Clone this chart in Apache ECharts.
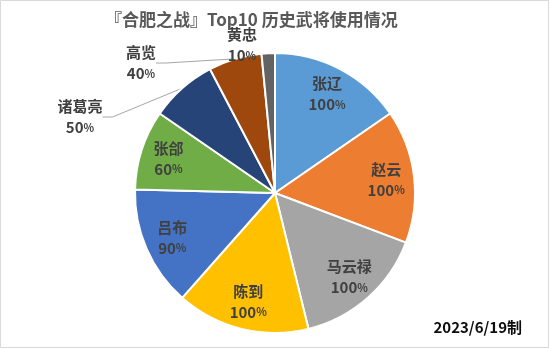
<!DOCTYPE html>
<html>
<head>
<meta charset="utf-8">
<script src="https://cdn.jsdelivr.net/npm/echarts@6/dist/echarts.min.js"></script>
<style>
  html, body { margin: 0; padding: 0; background: #fff; }
  #chart { width: 550px; height: 349px; }
</style>
</head>
<body>
<div id="chart"></div>
<script>
// Generals and their usage rate (%)
const generals = ['张辽', '赵云', '马云禄', '陈到', '吕布', '张郃', '诸葛亮', '高览', '黄忠'];
const usage = [100, 100, 100, 100, 90, 60, 50, 40, 10];
const colors = ['#5B9BD5', '#ED7D31', '#A5A5A5', '#FFC000', '#4472C4', '#70AD47', '#264478', '#9E480E', '#636363'];
const titleText = '『合肥之战』Top10 历史武将使用情况';
const dateText = '2023/6/19制';

// small slices get their label outside the pie, placed by hand
const outsideLabels = { '诸葛亮': [80, 117], '高览': [141, 63], '黄忠': [242, 45] };

const chart = echarts.init(document.getElementById('chart'));
const fontCJK = '"Noto Sans CJK SC", "Microsoft YaHei", sans-serif';
const rich = {
  n: { fontSize: 15, fontWeight: 'bold', color: '#404040', fontFamily: fontCJK, lineHeight: 21 },
  v: { fontSize: 15, fontWeight: 'bold', color: '#404040', fontFamily: fontCJK, lineHeight: 21 },
  p: { fontSize: 11, fontWeight: 'bold', color: '#404040', fontFamily: fontCJK, lineHeight: 21 }
};
const fmt = p => '{n|' + p.name + '}\n{v|' + p.value + '}{p|%}';

const pieData = generals.map((g, i) => ({
  name: g,
  value: usage[i],
  itemStyle: { color: colors[i] },
  label: { show: g in outsideLabels },
  labelLine: { show: g in outsideLabels && g !== '黄忠' }
}));

const ringData = generals.map((g, i) => ({
  name: g,
  value: usage[i],
  label: { show: !(g in outsideLabels) }
}));

chart.setOption({
  backgroundColor: '#fff',
  animation: false,
  title: {
    text: titleText,
    left: 100,
    top: 6,
    textStyle: { fontSize: 17, fontWeight: 'bold', color: '#595959', fontFamily: fontCJK }
  },
  graphic: [
    {
      type: 'rect',
      shape: { x: 0.5, y: 0.5, width: 548, height: 347 },
      style: { fill: 'none', stroke: '#d9d9d9', lineWidth: 1 },
      silent: true
    },
    {
      type: 'text',
      right: 28,
      bottom: 14,
      style: { text: dateText, fontSize: 15, fontWeight: 'bold', fill: '#0d0d0d', fontFamily: fontCJK }
    }
  ],
  series: [
    {
      type: 'pie',
      center: [275, 193],
      radius: [0, 140],
      startAngle: 90,
      clockwise: true,
      silent: true,
      itemStyle: { borderColor: '#fff', borderWidth: 2 },
      label: { position: 'outside', formatter: fmt, rich: rich },
      labelLine: { lineStyle: { color: '#a6a6a6', width: 1 }, length: 10, length2: 10 },
      labelLayout: function (params) {
        const pos = outsideLabels[generals[params.dataIndex]];
        if (!pos) return {};
        return { x: pos[0], y: pos[1], align: 'center', verticalAlign: 'middle' };
      },
      data: pieData
    },
    {
      // transparent ring that only carries the inner labels
      type: 'pie',
      center: [275, 193],
      radius: [78, 140],
      startAngle: 90,
      clockwise: true,
      silent: true,
      itemStyle: { color: 'rgba(0,0,0,0)' },
      label: { position: 'inside', formatter: fmt, rich: rich },
      labelLine: { show: false },
      data: ringData
    }
  ]
});
</script>
</body>
</html>
